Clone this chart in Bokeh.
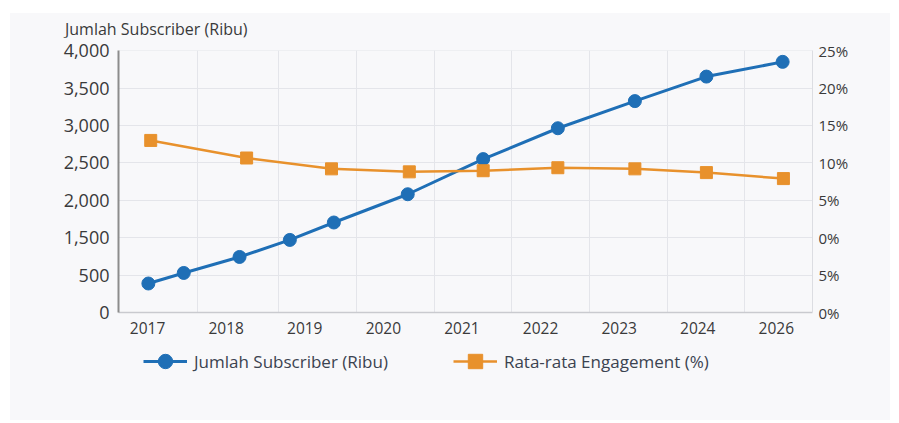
from bokeh.plotting import figure
from bokeh.layouts import column
from bokeh.models import (Range1d, LinearAxis, FixedTicker, Legend, LegendItem, Div)
from bokeh.embed import file_html
from bokeh.resources import INLINE

# ---- data ----
year_ticks = [2017, 2018, 2019, 2020, 2021, 2022, 2023, 2024, 2025]
year_labels = ["2017", "2018", "2019", "2020", "2021", "2022", "2023", "2024", "2026"]

subs_x = [2017.01, 2017.46, 2018.17, 2018.81, 2019.37, 2020.31, 2021.27, 2022.22, 2023.20, 2024.11, 2025.08]
subs_y = [888, 1029, 1243, 1471, 1704, 2082, 2552, 2965, 3328, 3656, 3853]

eng_x = [2017.04, 2018.26, 2019.34, 2020.33, 2021.27, 2022.22, 2023.20, 2024.11, 2025.09]
eng_y = [13.0, 10.65, 9.2, 8.8, 8.95, 9.35, 9.2, 8.7, 7.9]

left_ticks = [500, 1000, 1500, 2000, 2500, 3000, 3500, 4000]
left_labels = ["0", "500", "1,500", "2,000", "2,500", "3,000", "3,500", "4,000"]
right_ticks = [-10, -5, 0, 5, 10, 15, 20, 25]
right_labels = ["0%", "5%", "0%", "5%", "10%", "15%", "20%", "25%"]
vgrid = [2017.636, 2018.667, 2019.659, 2020.651, 2021.630, 2022.62, 2023.61, 2024.60]

SUBS_NAME = "Jumlah Subscriber (Ribu)"
ENG_NAME = "Rata-rata Engagement (%)"

BLUE = "#1f6fb6"
ORANGE = "#e8912c"
BG = "#f8f8fa"
FONT = "Open Sans"
TXT = "#3a3a3a"

# axis title strip above the chart
head = Div(text=('<div style="padding:5px 0 0 55px; font-family:\'Open Sans\'; font-size:16px; '
                 'line-height:22px; color:#3a3a3a; white-space:nowrap;">' + SUBS_NAME + '</div>'),
           width=880, height=24, margin=(0, 0, 0, 0), styles={"background-color": BG})

p = figure(width=880, height=303, margin=(0, 0, 0, 0), title=None,
           output_backend="svg", toolbar_location=None,
           x_range=Range1d(2016.63, 2025.46), y_range=Range1d(500, 4005),
           min_border_left=108, min_border_right=78, min_border_top=13, min_border_bottom=28)
p.background_fill_color = BG
p.border_fill_color = BG
p.outline_line_color = None

p.extra_y_ranges = {"eng": Range1d(-10, 25.02)}

# x axis
xa = p.xaxis[0]
xa.ticker = FixedTicker(ticks=year_ticks)
xa.major_label_overrides = {t: l for t, l in zip(year_ticks, year_labels)}
xa.axis_line_color = "#c9cacf"
xa.axis_line_width = 1.5
xa.major_tick_line_color = None
xa.major_tick_out = 0
xa.minor_tick_line_color = None
xa.major_label_standoff = 9
xa.major_label_text_font = FONT
xa.major_label_text_font_size = "15.5px"
xa.major_label_text_color = TXT

# left axis
ya = p.yaxis[0]
ya.ticker = FixedTicker(ticks=left_ticks)
ya.major_label_overrides = {t: l for t, l in zip(left_ticks, left_labels)}
ya.axis_line_color = "#8c8c8c"
ya.axis_line_width = 2
ya.major_tick_line_color = None
ya.major_tick_out = 0
ya.minor_tick_line_color = None
ya.major_label_standoff = 9
ya.major_label_text_font = FONT
ya.major_label_text_font_size = "18px"
ya.major_label_text_color = TXT

# right axis
ra = LinearAxis(y_range_name="eng", ticker=FixedTicker(ticks=right_ticks))
ra.major_label_overrides = {t: l for t, l in zip(right_ticks, right_labels)}
ra.axis_line_color = "#dcdde2"
ra.major_tick_line_color = None
ra.major_tick_out = 0
ra.minor_tick_line_color = None
ra.major_label_standoff = 6
ra.major_label_text_font = FONT
ra.major_label_text_font_size = "15px"
ra.major_label_text_color = TXT
p.add_layout(ra, "right")

# grids
p.xgrid.ticker = FixedTicker(ticks=vgrid)
p.xgrid.grid_line_color = "#e4e5ea"
p.ygrid.grid_line_color = "#e4e5ea"

# series
p.line(subs_x, subs_y, line_color=BLUE, line_width=3)
p.scatter(subs_x, subs_y, marker="circle", size=13, fill_color=BLUE, line_color=BLUE)
p.line(eng_x, eng_y, y_range_name="eng", line_color=ORANGE, line_width=2.5)
p.scatter(eng_x, eng_y, y_range_name="eng", marker="square", size=12,
          fill_color=ORANGE, line_color=ORANGE)

# legend strip below the chart (series drawn out of its view, only the legend shows)
lg = figure(width=880, height=80, margin=(0, 0, 0, 0), title=None,
            output_backend="svg", toolbar_location=None,
            x_axis_type=None, y_axis_type=None,
            x_range=Range1d(0, 1), y_range=Range1d(0, 1),
            min_border_left=0, min_border_right=0, min_border_top=0, min_border_bottom=0)
lg.background_fill_color = BG
lg.border_fill_color = BG
lg.outline_line_color = None
lg.grid.visible = False
lbl = lg.line(subs_x, subs_y, line_color=BLUE, line_width=3)
lbs = lg.scatter(subs_x, subs_y, marker="circle", size=13, fill_color=BLUE, line_color=BLUE)
lol = lg.line(eng_x, eng_y, line_color=ORANGE, line_width=2.5)
los = lg.scatter(eng_x, eng_y, marker="square", size=16, fill_color=ORANGE, line_color=ORANGE)

legend = Legend(items=[LegendItem(label=SUBS_NAME, renderers=[lbl, lbs]),
                       LegendItem(label=ENG_NAME, renderers=[lol, los])],
                orientation="horizontal", location=(25, 41),
                background_fill_alpha=0, border_line_alpha=0,
                glyph_width=44, glyph_height=36, label_standoff=7, spacing=65,
                padding=0, margin=0,
                label_text_font=FONT, label_text_font_size="17px", label_text_color="#3b4350")
lg.add_layout(legend)

layout = column(head, p, lg, margin=(13, 0, 0, 10), spacing=0,
                styles={"background-color": BG})

open("out.html", "w").write(file_html(layout, INLINE))
